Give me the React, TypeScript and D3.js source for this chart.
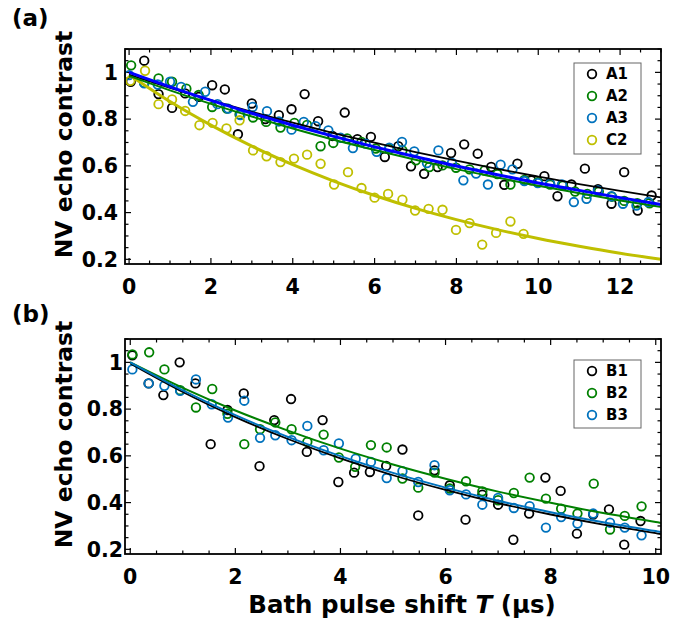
import { useRef, useEffect } from 'react';
import * as d3 from 'd3';

const FONT = 'DejaVu Sans, Verdana, sans-serif';

const BLACK = '#000000';
const GREEN = '#008000';
const BLUE = '#0072BD';
const YELLOW = '#BFBF00';
const FIT_BLUE = '#0000FF';

// ---- panel (a) measured points [T (us), contrast]
const A1 = [[0.04,0.96],[0.37,1.05],[0.72,0.907],[1.05,0.848],[1.37,0.91],[1.7,0.895],[2.03,0.945],[2.34,0.927],[2.66,0.735],[3.0,0.867],[3.33,0.8],[3.66,0.817],[3.97,0.842],[4.29,0.907],[4.62,0.791],[4.97,0.728],[5.27,0.828],[5.58,0.714],[5.91,0.724],[6.25,0.638],[6.58,0.684],[6.89,0.598],[7.21,0.566],[7.54,0.595],[7.87,0.655],[8.19,0.692],[8.52,0.652],[8.85,0.595],[9.17,0.519],[9.49,0.609],[9.83,0.538],[10.15,0.556],[10.47,0.47],[10.81,0.52],[11.14,0.588],[11.46,0.5],[11.79,0.438],[12.1,0.573],[12.43,0.409],[12.77,0.473]];
const A2 = [[0.05,1.03],[0.37,0.955],[0.72,0.974],[1.05,0.96],[1.4,0.93],[1.7,0.903],[2.03,0.852],[2.39,0.845],[2.7,0.82],[3.03,0.807],[3.35,0.788],[3.7,0.764],[4.04,0.784],[4.35,0.775],[4.68,0.684],[4.99,0.698],[5.33,0.717],[5.68,0.702],[6.03,0.674],[6.36,0.672],[6.68,0.666],[7.01,0.624],[7.34,0.595],[7.66,0.602],[7.99,0.592],[8.32,0.585],[8.69,0.58],[9.0,0.565],[9.32,0.52],[9.66,0.54],[9.99,0.53],[10.29,0.52],[10.6,0.515],[10.9,0.49],[11.2,0.48],[11.48,0.49],[11.8,0.468],[12.1,0.45],[12.42,0.44],[12.72,0.44]];
const A3 = [[0.0,0.988],[0.37,0.953],[0.7,0.948],[1.0,0.96],[1.27,0.938],[1.56,0.874],[1.86,0.917],[2.16,0.864],[2.42,0.845],[2.72,0.817],[3.02,0.852],[3.37,0.834],[3.66,0.79],[3.97,0.755],[4.27,0.788],[4.56,0.77],[4.87,0.752],[5.17,0.72],[5.47,0.676],[5.78,0.695],[6.05,0.66],[6.36,0.678],[6.67,0.702],[6.97,0.662],[7.28,0.612],[7.56,0.666],[7.89,0.612],[8.17,0.538],[8.48,0.567],[8.77,0.52],[9.08,0.605],[9.37,0.585],[9.66,0.535],[9.99,0.526],[10.29,0.524],[10.58,0.52],[10.87,0.445],[11.18,0.459],[11.46,0.495],[11.79,0.47],[12.07,0.438],[12.4,0.43],[12.69,0.445]];
const C2 = [[0.03,0.964],[0.39,1.007],[0.72,0.864],[1.05,0.884],[1.37,0.835],[1.72,0.774],[2.04,0.784],[2.38,0.76],[2.7,0.795],[3.03,0.666],[3.36,0.641],[3.7,0.616],[4.03,0.631],[4.35,0.648],[4.68,0.609],[5.01,0.52],[5.35,0.573],[5.68,0.505],[6.0,0.464],[6.33,0.48],[6.68,0.455],[6.99,0.409],[7.32,0.416],[7.66,0.412],[7.99,0.326],[8.32,0.355],[8.63,0.263],[8.97,0.313],[9.32,0.362],[9.64,0.309]];

// fit curves
const FIT_A1 = [[0,0.99],[1,0.934],[2,0.881],[3,0.831],[4,0.785],[5,0.74],[6,0.699],[7,0.659],[8,0.622],[9,0.587],[10,0.554],[11,0.522],[12,0.493],[13,0.465]];
const FIT_A2 = [[0,0.985],[1,0.923],[2,0.865],[3,0.811],[4,0.76],[5,0.712],[6,0.668],[7,0.626],[8,0.586],[9,0.55],[10,0.515],[11,0.483],[12,0.452],[13,0.424]];
const FIT_A3 = [[0,1.0],[1,0.938],[2,0.88],[3,0.825],[4,0.774],[5,0.726],[6,0.681],[7,0.639],[8,0.599],[9,0.562],[10,0.527],[11,0.495],[12,0.464],[13,0.435]];
const FIT_C2 = [[0,0.99],[1,0.875],[2,0.774],[3,0.684],[4,0.605],[5,0.535],[6,0.473],[7,0.418],[8,0.37],[9,0.327],[10,0.289],[11,0.256],[12,0.226],[13,0.2]];

// ---- panel (b)
const B1 = [[0.04,1.03],[0.35,0.91],[0.63,0.86],[0.94,1.0],[1.24,0.91],[1.53,0.65],[1.85,0.796],[2.16,0.867],[2.46,0.556],[2.74,0.753],[3.06,0.843],[3.36,0.617],[3.66,0.753],[3.96,0.488],[4.26,0.528],[4.56,0.531],[4.87,0.557],[5.18,0.627],[5.48,0.345],[5.79,0.538],[6.08,0.474],[6.38,0.327],[6.7,0.434],[7.0,0.391],[7.29,0.241],[7.59,0.353],[7.9,0.507],[8.19,0.45],[8.5,0.267],[8.81,0.349],[9.11,0.371],[9.4,0.22],[9.71,0.321]];
const B2 = [[0.04,1.034],[0.36,1.043],[0.65,0.97],[0.95,0.881],[1.25,0.807],[1.56,0.886],[1.85,0.78],[2.17,0.65],[2.47,0.714],[2.76,0.743],[3.07,0.714],[3.37,0.66],[3.68,0.691],[3.97,0.593],[4.28,0.553],[4.58,0.646],[4.88,0.636],[5.18,0.503],[5.48,0.464],[5.79,0.528],[6.08,0.46],[6.39,0.491],[6.7,0.448],[7.0,0.41],[7.3,0.441],[7.6,0.507],[7.91,0.417],[8.2,0.374],[8.51,0.353],[8.82,0.481],[9.13,0.285],[9.41,0.343],[9.73,0.384]];
const B3 = [[0.04,0.97],[0.35,0.91],[0.65,0.9],[0.95,0.878],[1.25,0.927],[1.55,0.821],[1.86,0.764],[2.17,0.836],[2.47,0.677],[2.76,0.688],[3.07,0.667],[3.37,0.728],[3.68,0.624],[3.97,0.653],[4.29,0.588],[4.58,0.574],[4.88,0.505],[5.18,0.534],[5.48,0.488],[5.79,0.56],[6.08,0.453],[6.39,0.435],[6.7,0.391],[7.0,0.42],[7.3,0.377],[7.6,0.385],[7.91,0.293],[8.2,0.338],[8.51,0.31],[8.81,0.353],[9.13,0.314],[9.41,0.293],[9.73,0.26]];

const FIT_B1 = [[0,0.995],[1,0.873],[2,0.766],[3,0.672],[4,0.589],[5,0.517],[6,0.454],[7,0.398],[8,0.349],[9,0.306],[10,0.269],[10.1,0.265]];
const FIT_B2 = [[0,1.0],[1,0.891],[2,0.794],[3,0.708],[4,0.631],[5,0.563],[6,0.502],[7,0.447],[8,0.399],[9,0.355],[10,0.317],[10.1,0.313]];
const FIT_B3 = [[0,1.0],[1,0.88],[2,0.774],[3,0.681],[4,0.599],[5,0.527],[6,0.464],[7,0.408],[8,0.359],[9,0.316],[10,0.278],[10.1,0.274]];

const X_TICKS_A = [0, 2, 4, 6, 8, 10, 12];
const X_TICKS_B = [0, 2, 4, 6, 8, 10];
const Y_TICKS = [0.2, 0.4, 0.6, 0.8, 1];
const Y_LABELS = ['0.2', '0.4', '0.6', '0.8', '1'];

const PANELS = [
  {
    tag: '(a)', tagY: 26, top: 49, bottom: 264, xDomain: [-0.1, 13], xTicks: X_TICKS_A, yLabelGap: 7,
    series: [
      { name: 'A1', pts: A1, color: BLACK },
      { name: 'A2', pts: A2, color: GREEN },
      { name: 'A3', pts: A3, color: BLUE },
      { name: 'C2', pts: C2, color: YELLOW },
    ],
    fits: [
      { pts: FIT_C2, color: YELLOW, w: 3 },
      { pts: FIT_A1, color: BLACK, w: 1.8 },
      { pts: FIT_A2, color: GREEN, w: 2 },
      { pts: FIT_A3, color: FIT_BLUE, w: 3 },
    ],
    legend: { x: 574, y: 63, w: 67, h: 91 },
  },
  {
    tag: '(b)', tagY: 322, top: 339, bottom: 554, xDomain: [-0.1, 10.1], xTicks: X_TICKS_B, yLabelGap: 2,
    series: [
      { name: 'B1', pts: B1, color: BLACK },
      { name: 'B2', pts: B2, color: GREEN },
      { name: 'B3', pts: B3, color: BLUE },
    ],
    fits: [
      { pts: FIT_B1, color: BLACK, w: 1.8 },
      { pts: FIT_B2, color: GREEN, w: 2 },
      { pts: FIT_B3, color: BLUE, w: 2 },
    ],
    legend: { x: 574, y: 360, w: 67, h: 68 },
  },
];

const LEFT = 125, RIGHT = 661;

export default function App() {
  const ref = useRef<SVGSVGElement>(null);

  useEffect(() => {
    const svg = d3.select(ref.current);
    svg.selectAll('*').remove();

    PANELS.forEach((p, pi) => {
      const x = d3.scaleLinear().domain(p.xDomain).range([LEFT, RIGHT]);
      const y = d3.scaleLinear().domain([0.18, 1.1]).range([p.bottom, p.top]);
      const g = svg.append('g');

      // ── ticks (inward, all four sides)
      const tk = g.append('g').attr('stroke', '#000').attr('stroke-width', 1.2);
      const xMinor = d3.range(0, p.xDomain[1] + 1e-6, 0.5);
      xMinor.forEach(v => {
        const len = p.xTicks.includes(v) ? 6 : 3.5;
        tk.append('line').attr('x1', x(v)).attr('x2', x(v)).attr('y1', p.bottom).attr('y2', p.bottom - len);
        tk.append('line').attr('x1', x(v)).attr('x2', x(v)).attr('y1', p.top).attr('y2', p.top + len);
      });
      const yMinor = d3.range(0.2, 1.1 + 1e-6, 0.05);
      yMinor.forEach(v => {
        const major = Y_TICKS.some(t => Math.abs(t - v) < 1e-6);
        const len = major ? 6 : 3.5;
        tk.append('line').attr('x1', LEFT).attr('x2', LEFT + len).attr('y1', y(v)).attr('y2', y(v));
        tk.append('line').attr('x1', RIGHT).attr('x2', RIGHT - len).attr('y1', y(v)).attr('y2', y(v));
      });

      // ── markers
      p.series.forEach(s => {
        g.append('g').selectAll('circle').data(s.pts).join('circle')
          .attr('cx', d => x(d[0])).attr('cy', d => y(d[1])).attr('r', 4.3)
          .attr('fill', 'none').attr('stroke', s.color).attr('stroke-width', 1.8);
      });

      // ── fit lines
      const clipId = `clip${pi}`;
      svg.append('clipPath').attr('id', clipId).append('rect')
        .attr('x', LEFT).attr('y', p.top).attr('width', RIGHT - LEFT).attr('height', p.bottom - p.top);
      const line = d3.line<number[]>().x(d => x(d[0])).y(d => y(d[1])).curve(d3.curveMonotoneX);
      p.fits.forEach(f => {
        g.append('path').attr('d', line(f.pts)).attr('fill', 'none')
          .attr('stroke', f.color).attr('stroke-width', f.w).attr('clip-path', `url(#${clipId})`);
      });

      // ── frame
      g.append('rect').attr('x', LEFT).attr('y', p.top).attr('width', RIGHT - LEFT).attr('height', p.bottom - p.top)
        .attr('fill', 'none').attr('stroke', '#000').attr('stroke-width', 1.8);

      // ── tick labels
      p.xTicks.forEach(v => {
        g.append('text').attr('x', x(v)).attr('y', p.bottom + 30).attr('text-anchor', 'middle')
          .attr('font-family', FONT).attr('font-weight', 'bold').attr('font-size', 20.5).text(String(v));
      });
      Y_TICKS.forEach((v, i) => {
        g.append('text').attr('x', LEFT - p.yLabelGap).attr('y', y(v)).attr('dy', '0.36em').attr('text-anchor', 'end')
          .attr('font-family', FONT).attr('font-weight', 'bold').attr('font-size', 20.5).text(Y_LABELS[i]);
      });

      // ── y title and panel tag
      g.append('text').attr('transform', `translate(72,${(p.top + p.bottom) / 2 - 12}) rotate(-90)`)
        .attr('text-anchor', 'middle').attr('font-family', FONT).attr('font-weight', 'bold').attr('font-size', 23.5)
        .text('NV echo contrast');
      g.append('text').attr('x', 12).attr('y', p.tagY).attr('font-family', FONT).attr('font-weight', 'bold')
        .attr('font-size', 23).text(p.tag);

      // ── legend
      const L = p.legend;
      const lg = g.append('g');
      lg.append('rect').attr('x', L.x).attr('y', L.y).attr('width', L.w).attr('height', L.h)
        .attr('fill', '#fff').attr('stroke', '#666').attr('stroke-width', 1);
      p.series.forEach((s, i) => {
        const cy = L.y + 11 + i * 22;
        lg.append('circle').attr('cx', L.x + 18).attr('cy', cy).attr('r', 4.3)
          .attr('fill', 'none').attr('stroke', s.color).attr('stroke-width', 1.8);
        lg.append('text').attr('x', L.x + 32).attr('y', cy).attr('dy', '0.36em')
          .attr('font-family', FONT).attr('font-weight', 'bold').attr('font-size', 15).text(s.name);
      });
    });

    // ── x title
    const t = svg.append('text').attr('x', 402).attr('y', 613).attr('text-anchor', 'middle')
      .attr('font-family', FONT).attr('font-weight', 'bold').attr('font-size', 24.5);
    t.append('tspan').text('Bath pulse shift ');
    t.append('tspan').attr('font-style', 'italic').text('T');
    t.append('tspan').text(' (\u03bcs)');
  }, []);

  return (
    <svg ref={ref} width={680} height={629}
      style={{ position: 'absolute', left: 0, top: 0, background: '#fff' }} />
  );
}
